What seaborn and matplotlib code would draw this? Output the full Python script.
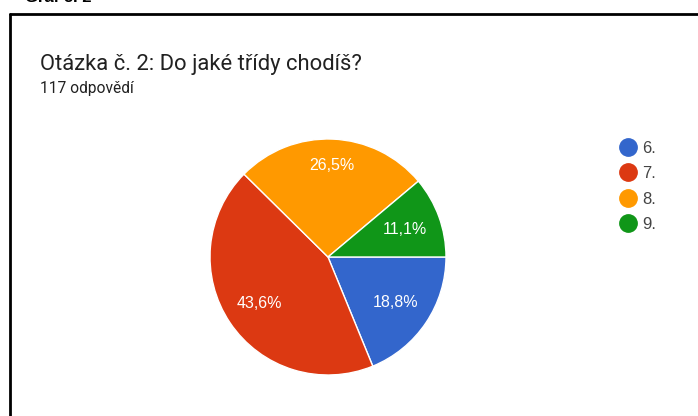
import matplotlib
matplotlib.use("Agg")
import matplotlib.pyplot as plt
from matplotlib.lines import Line2D
import numpy as np
import seaborn as sns

categories = ["6.", "7.", "8.", "9."]
counts = [22, 51, 31, 13]
pct_labels = ["18,8%", "43,6%", "26,5%", "11,1%"]
colors_hex = ["#3366cc", "#dc3912", "#ff9900", "#109618"]
title = "Otázka č. 2: Do jaké třídy chodíš?"
subtitle = "117 odpovědí"
caption = "Graf č. 2"

sns.set_theme(style="white")
plt.rcParams['font.family'] = ['Roboto', 'DejaVu Sans']
palette = sns.color_palette(colors_hex)

W, H = 698, 416
fig = plt.figure(figsize=(W / 100, H / 100), dpi=100)
fig.patch.set_facecolor("white")

cx, cy, r = 328, 257, 118
ax = fig.add_axes([(cx - r) / W, (H - cy - r) / H, 2 * r / W, 2 * r / H])
wedges, texts = ax.pie(counts, colors=palette, startangle=0, counterclock=False,
                       radius=1, wedgeprops=dict(edgecolor="white", linewidth=1))
ax.set_xlim(-1, 1)
ax.set_ylim(-1, 1)
ax.set_aspect("equal")

label_dist = [0.69, 0.7, 0.78, 0.69]
for w, lab, d in zip(wedges, pct_labels, label_dist):
    ang = np.deg2rad((w.theta1 + w.theta2) / 2)
    ax.text(d * np.cos(ang), d * np.sin(ang), lab, color="white",
            ha="center", va="center", fontsize=11.5,
            family=['Liberation Sans', 'DejaVu Sans'])

# frame lines
bx, by = 9.5 / W, 1 - 13.5 / H
fig.add_artist(Line2D([bx, 1], [by, by], color="black", linewidth=2, transform=fig.transFigure))
fig.add_artist(Line2D([bx, bx], [by, 0], color="black", linewidth=2, transform=fig.transFigure))

fig.text(25 / W, 1 - 1.5 / H, caption, fontsize=12, fontweight="bold", va="baseline",
         ha="left", color="black", family=['Liberation Sans', 'DejaVu Sans'])
fig.text(40 / W, 1 - 70 / H, title, fontsize=15.8, color="#212121", va="baseline", ha="left")
fig.text(40 / W, 1 - 93 / H, subtitle, fontsize=11.2, color="#212121", va="baseline", ha="left")

handles = [Line2D([], [], marker="o", linestyle="", markersize=12.5,
                  markerfacecolor=c, markeredgecolor=c) for c in palette]
leg = fig.legend(handles, categories, loc="upper left",
                 bbox_to_anchor=(620 / W, 1 - 141 / H), frameon=False,
                 handlelength=1.0, handletextpad=0.35, labelspacing=0.62,
                 prop=dict(family=['Liberation Sans', 'DejaVu Sans'], size=12),
                 borderaxespad=0, borderpad=0)
for t in leg.get_texts():
    t.set_color("#444444")

fig.savefig("out.png", dpi=100)
